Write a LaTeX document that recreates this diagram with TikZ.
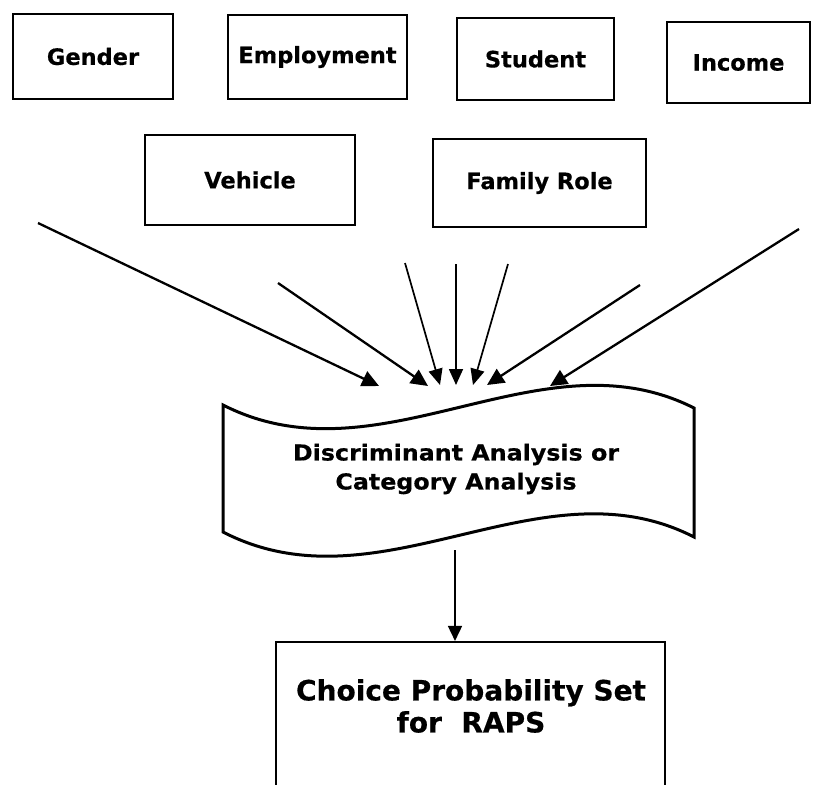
\documentclass[tikz,border=0pt]{standalone}
\usepackage{fontspec}
\setmainfont{DejaVu Sans}[BoldFeatures={FakeBold=0.5}]
\newfontfamily\widefont{DejaVu Sans}[FakeStretch=1.08,BoldFeatures={FakeBold=0.5}]
\usetikzlibrary{arrows.meta}
\begin{document}
\begin{tikzpicture}[x=1pt,y=-1pt,
  inbox/.style={draw, line width=2.1pt, inner sep=0pt, font=\bfseries\fontsize{22.5}{26}\selectfont},
  feed/.style={line width=2.3pt, -{Triangle[length=17pt,width=16pt]}},
  feedthin/.style={line width=1.7pt, -{Triangle[length=16pt,width=14pt]}}]
\clip (0,0) rectangle (813,784);
\fill[white] (0,0) rectangle (813,784);
% top boxes
\node[inbox, minimum width=160pt, minimum height=85pt] (gender) at (93,56.5) {Gender};
\node[inbox, minimum width=179pt, minimum height=84pt] (employ) at (317.5,57) {Employment};
\node[inbox, minimum width=157pt, minimum height=82pt] (student) at (535.5,59) {Student};
\node[inbox, minimum width=143pt, minimum height=81pt] (income) at (738.5,62.5) {Income};
\node[inbox, minimum width=210pt, minimum height=90pt] (vehicle) at (250,180) {Vehicle};
\node[inbox, minimum width=213pt, minimum height=88pt] (family) at (539.5,183) {Family Role};
% document shape
\draw[line width=3pt, line join=miter]
  (223,405) .. controls (380,485) and (540,330) .. (694,408)
  -- (694,537)
  .. controls (540,458) and (380,613) .. (223,532) -- cycle;
\node[align=center, inner sep=0pt, font=\widefont\bfseries\fontsize{22}{29}\selectfont] (doc) at (456,469)
  {Discriminant Analysis or\\Category Analysis};
% arrow coordinates
\coordinate (s1) at (38,223);  \coordinate (e1) at (379,386);
\coordinate (s2) at (278,283); \coordinate (e2) at (428,386);
\coordinate (s3) at (405,263); \coordinate (e3) at (440,385);
\coordinate (s4) at (456,264); \coordinate (e4) at (456,385);
\coordinate (s5) at (508,264); \coordinate (e5) at (473,385);
\coordinate (s6) at (640,285); \coordinate (e6) at (487,385);
\coordinate (s7) at (799,229); \coordinate (e7) at (550,386);
\draw[feed] (s1) -- (e1);
\draw[feed] (s2) -- (e2);
\draw[feedthin] (s3) -- (e3);
\draw[feedthin] (s4) -- (e4);
\draw[feedthin] (s5) -- (e5);
\draw[feed] (s6) -- (e6);
\draw[feed] (s7) -- (e7);
% bottom box
\node[draw, line width=2.1pt, minimum width=389pt, minimum height=160pt, inner sep=0pt] (choicebox) at (470.5,722) {};
\node[align=center, inner sep=0pt, font=\bfseries\fontsize{28}{32}\selectfont] (choice) at (471,706)
  {Choice Probability Set\\for\ \ RAPS};
\coordinate (d1) at (455,550);
\draw[line width=1.6pt, -{Triangle[length=15pt,width=14pt]}] (d1) -- (d1 |- choicebox.north);
\end{tikzpicture}
\end{document}
